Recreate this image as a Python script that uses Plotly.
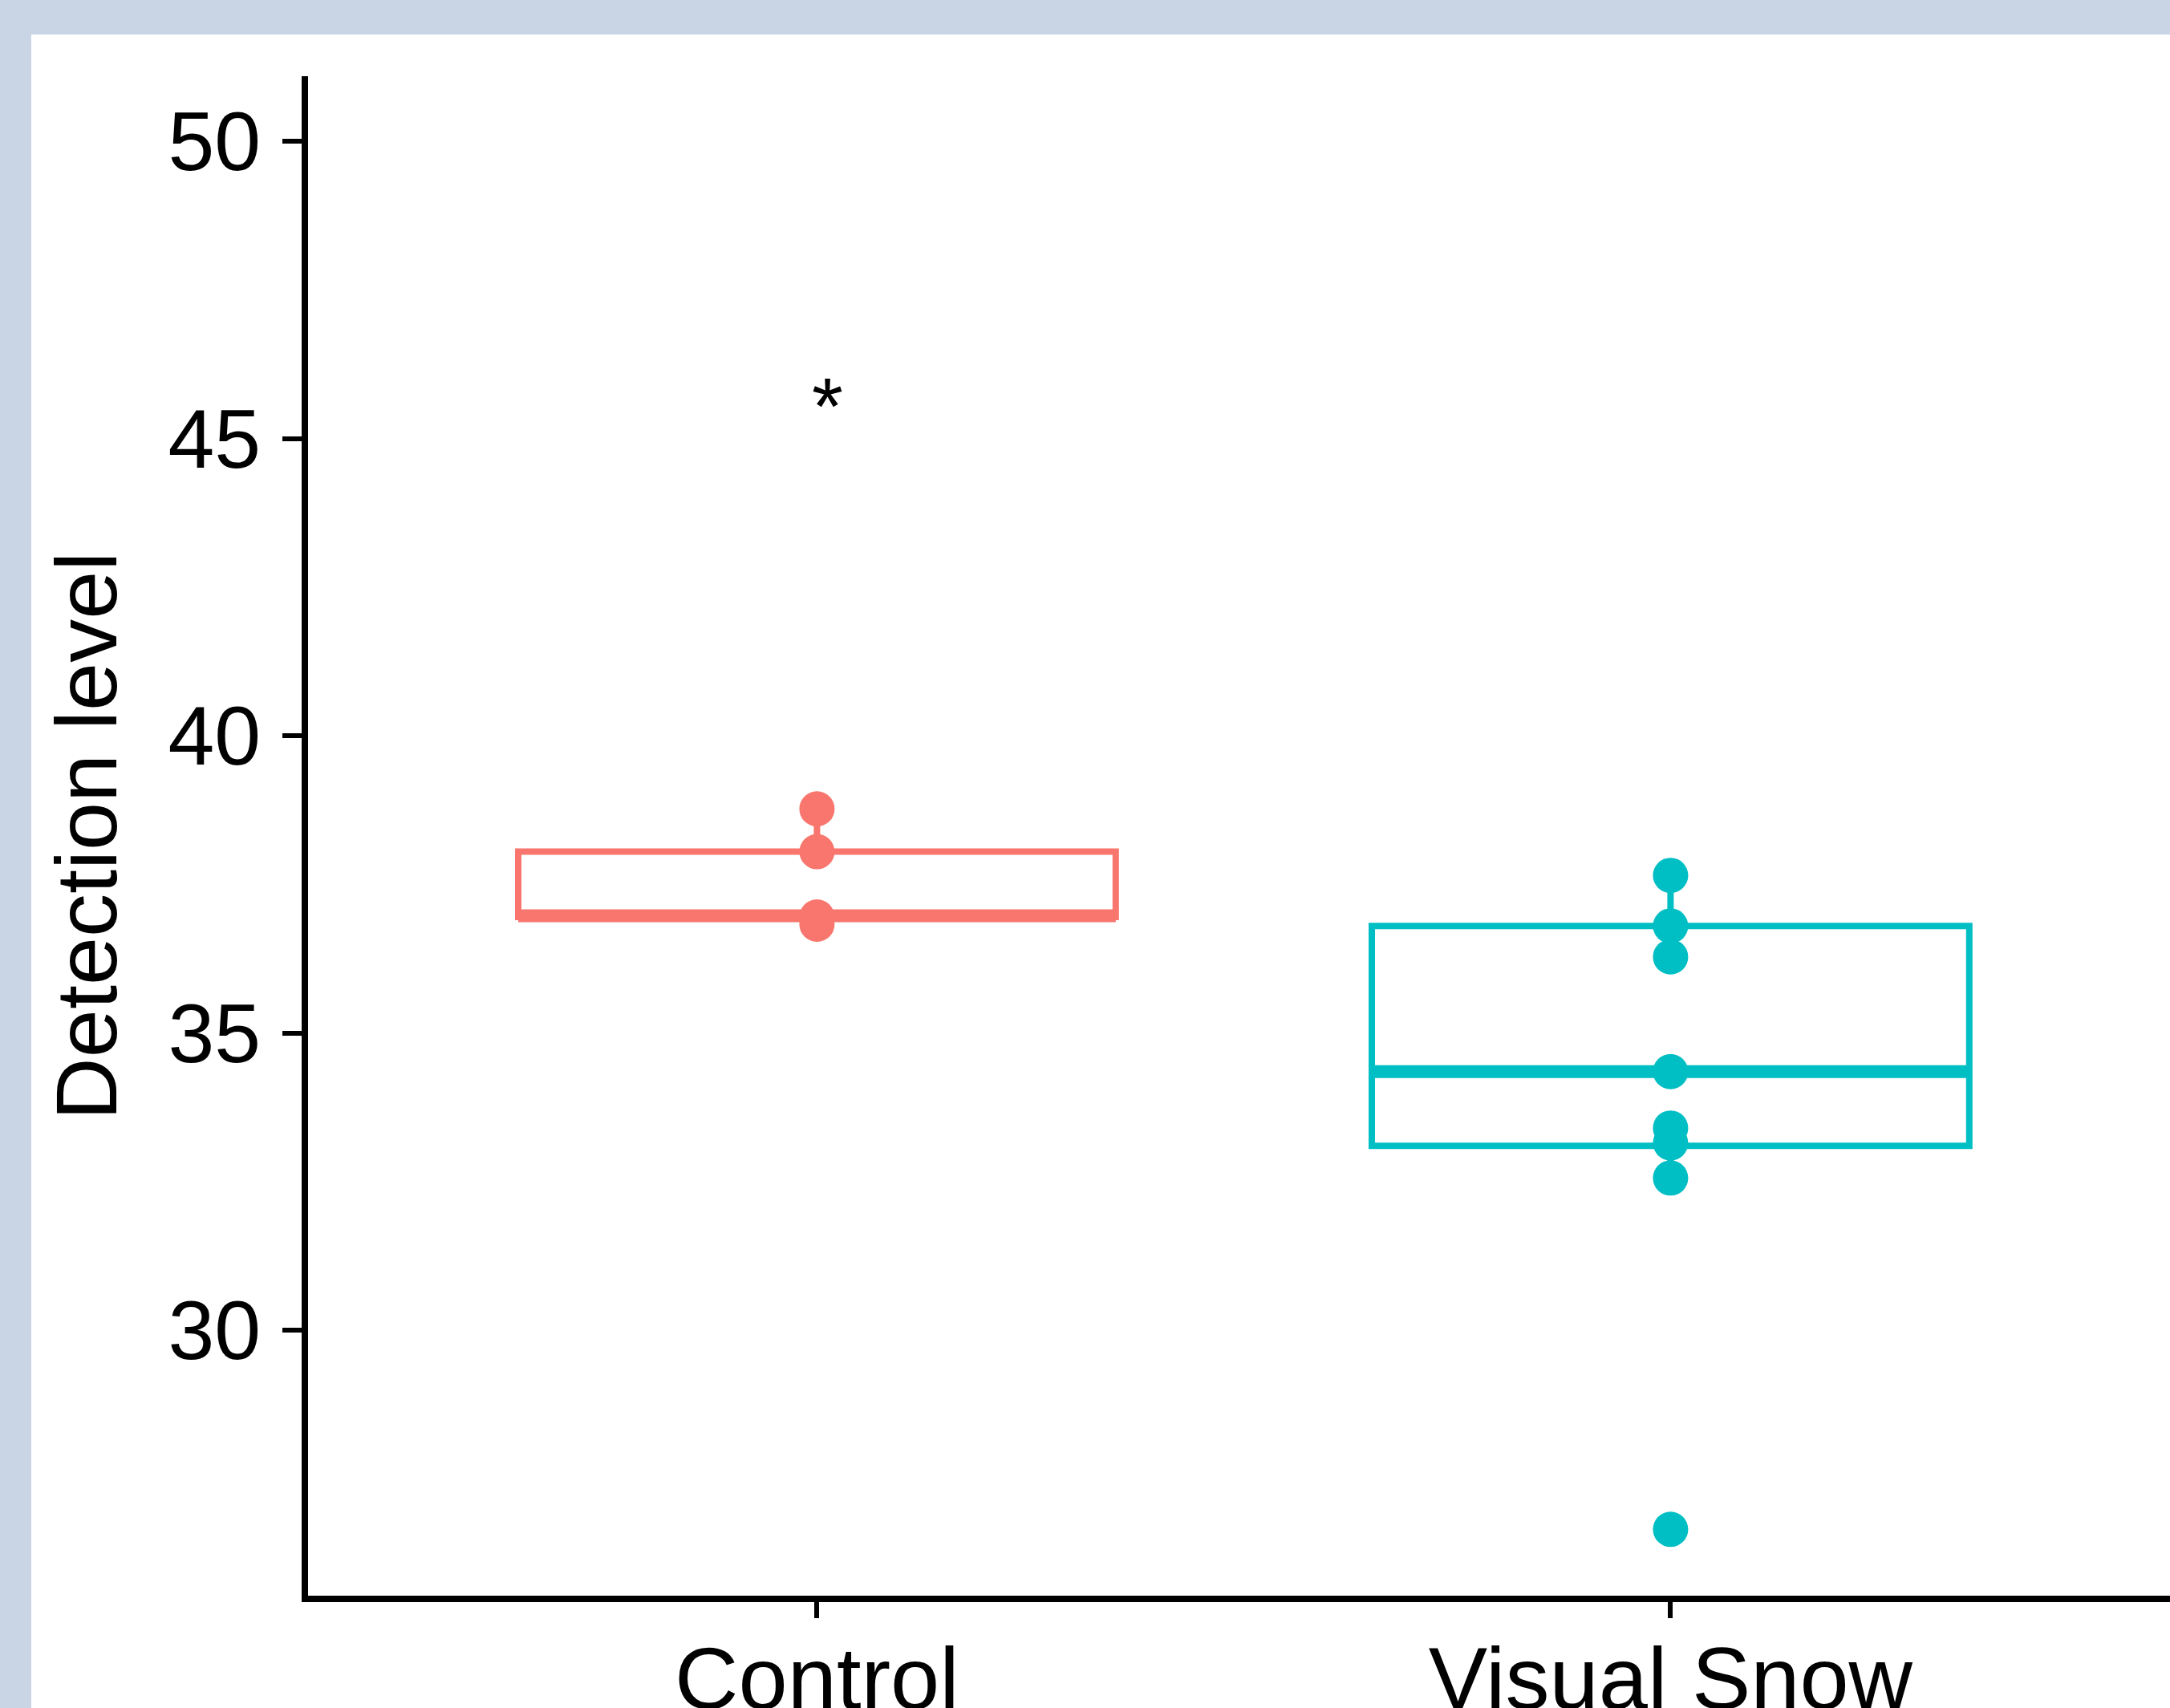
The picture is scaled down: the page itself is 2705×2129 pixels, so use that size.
import plotly.graph_objects as go

# ---- data ----
categories = ["Control", "Visual Snow"]
positions = [0, 1]
colors = ["#F8766D", "#00BFC4"]

control_points = [38.77, 38.05, 36.95, 36.83]
snow_points = [37.65, 36.80, 36.28, 34.35, 33.40, 33.15, 32.56, 26.65]

q1_vals = [36.95, 33.10]
median_vals = [36.97, 34.35]
q3_vals = [38.05, 36.80]
lower_whisker = [36.83, 32.56]
upper_whisker = [38.77, 37.65]

y_ticks = [30, 35, 40, 45, 50]
signif_label = "*"
signif_pos = (0.012, 45.55)

box_width = 0.7

W, H = 2705, 2129
L, R, T, B = 384, 0, 95, 140
plot_w = W - L - R
plot_h = H - T - B
px_per_x = 1064.0
px_per_y = 74.1
x_lo = -0.6 + 4 / px_per_x
y_lo = 25.48 + 4 / px_per_y

fig = go.Figure()
points = [control_points, snow_points]
for i, cat in enumerate(categories):
    fig.add_trace(go.Box(
        x=[positions[i]], q1=[q1_vals[i]], median=[median_vals[i]], q3=[q3_vals[i]],
        lowerfence=[lower_whisker[i]], upperfence=[upper_whisker[i]],
        width=box_width, fillcolor="rgba(255,255,255,0)",
        line=dict(color=colors[i], width=8), boxpoints=False,
        whiskerwidth=0, name=cat, showlegend=False, hoverinfo="skip"))
    # thicker median line (ggplot fatten = 2)
    fig.add_trace(go.Scatter(
        x=[positions[i] - box_width / 2, positions[i] + box_width / 2],
        y=[median_vals[i], median_vals[i]], mode="lines",
        line=dict(color=colors[i], width=16), showlegend=False, hoverinfo="skip"))
    fig.add_trace(go.Scatter(
        x=[positions[i]] * len(points[i]), y=points[i], mode="markers",
        marker=dict(color=colors[i], size=44, line=dict(width=0)),
        showlegend=False, hoverinfo="skip"))

fig.add_annotation(x=signif_pos[0], y=signif_pos[1], text=signif_label,
                   showarrow=False, xanchor="center", yanchor="middle",
                   font=dict(size=100, color="black", family="Liberation Sans, Arial"))

# light blue-gray frame at top and left
fig.add_shape(type="rect", xref="paper", yref="paper",
              x0=-L / plot_w - 0.01, x1=(39 - L) / plot_w,
              y0=-(B + 10) / plot_h, y1=(plot_h + T + 10) / plot_h,
              fillcolor="#C9D5E4", line=dict(width=0), layer="below")
fig.add_shape(type="rect", xref="paper", yref="paper",
              x0=-L / plot_w - 0.01, x1=1.01,
              y0=(plot_h + T - 43) / plot_h, y1=(plot_h + T + 10) / plot_h,
              fillcolor="#C9D5E4", line=dict(width=0), layer="below")

fig.update_layout(
    width=W, height=H,
    margin=dict(l=L, r=R, t=T, b=B, pad=0),
    paper_bgcolor="white", plot_bgcolor="white",
    font=dict(family="Liberation Sans, Arial", color="black"),
    xaxis=dict(range=[x_lo, x_lo + plot_w / px_per_x], tickmode="array",
               tickvals=positions, ticktext=categories,
               showgrid=False, zeroline=False, showline=True,
               linecolor="black", linewidth=8, ticks="outside",
               ticklen=20, tickwidth=6, tickcolor="black",
               ticklabelstandoff=-19,
               tickfont=dict(size=110, color="black"), automargin=False),
    yaxis=dict(range=[y_lo, y_lo + plot_h / px_per_y], tickmode="array", tickvals=y_ticks,
               showgrid=False, zeroline=False, showline=True,
               linecolor="black", linewidth=8, ticks="outside",
               ticklen=24, tickwidth=6, tickcolor="black",
               ticklabelstandoff=6,
               tickfont=dict(size=104, color="black"), automargin=False,
               title=dict(text="Detection level", font=dict(size=108, color="black"),
                          standoff=31)),
)

fig.write_html("out.html", config={"displayModeBar": False},
               post_script="document.body.style.margin='0';document.body.style.overflow='hidden';")
